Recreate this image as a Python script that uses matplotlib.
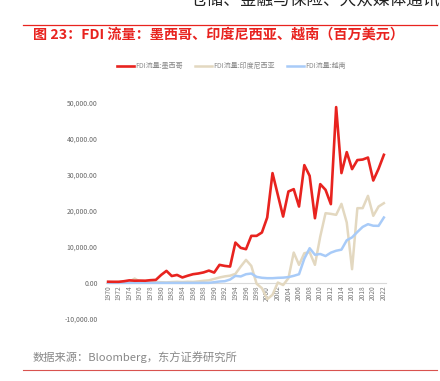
import matplotlib
matplotlib.use("Agg")
import matplotlib.pyplot as plt
import numpy as np

plt.rcParams['font.family'] = ['Noto Sans CJK SC', 'DejaVu Sans']

years = list(range(1970, 2023))
mexico = [320, 300, 300, 460, 700, 600, 630, 600, 750, 830,
          2200, 3320, 1900, 2200, 1500, 1980, 2400, 2600, 2900, 3400,
          2850, 4990, 4700, 4520, 11160, 9700, 9330, 13020, 13020, 13950,
          18100, 30390, 24380, 18370, 25300, 25950, 21140, 32600, 29640, 17900,
          27340, 25760, 21800, 48670, 30400, 36200, 31500, 34000, 34150, 34700,
          28340, 31600, 35460]
indonesia = [80, 140, 200, 200, 300, 1200, 340, 235, 280, 230,
             180, 130, 230, 290, 220, 310, 260, 400, 580, 700,
             1100, 1500, 1800, 2000, 2490, 4520, 6370, 4700, -240, -1470,
             -4500, -3300, 100, -600, 1300, 8400, 4990, 8220, 8500, 4990,
             12830, 19300, 19110, 18840, 21880, 16700, 3790, 20690, 20690, 24100,
             18560, 21140, 22070]
vietnam = [0, 0, 0, 0, 0, 0, 0, 0, 0, 0,
           0, 0, 0, 0, 0, 0, 0, 0, 10, 10,
           180, 380, 470, 930, 1940, 1780, 2400, 2590, 1670, 1410,
           1300, 1300, 1400, 1450, 1600, 1950, 2400, 6700, 9600, 7780,
           8000, 7430, 8370, 8900, 9200, 11800, 12600, 14100, 15500, 16250,
           15820, 15790, 18100]
series_names = ['FDI流量:墨西哥', 'FDI流量:印度尼西亚', 'FDI流量:越南']
colors = ['#E8231F', '#E3D8C0', '#A8CBF8']
yticks = [-10000, 0, 10000, 20000, 30000, 40000, 50000]

W, H = 440, 381
fig = plt.figure(figsize=(W / 100, H / 100), dpi=100)

def fx(px):
    return px / W

def fy(py):
    return 1 - py / H

# header (cut off at top, as in the source page)
fig.text(fx(440), fy(0), '仓储、金融与保险、大众媒体通讯', ha='right', va='center',
         fontsize=12, color='#222222')
# red rule
fig.add_artist(plt.Line2D([fx(23), fx(437)], [fy(24.5), fy(24.5)], color='#E8231F', lw=0.9))
fig.text(fx(33), fy(35), '图 23：FDI 流量：墨西哥、印度尼西亚、越南（百万美元）',
         ha='left', va='center', fontsize=10.2, color='#E8231F', fontweight='bold')

# axes
x0, x1 = 106, 386
ytop_px, ybot_px = 102.3, 319.0
ax = fig.add_axes([fx(x0), fy(ybot_px), fx(x1) - fx(x0), (ybot_px - ytop_px) / H])
ax.set_xlim(1969.6, 2022.4)
ax.set_ylim(-10000, 50000)

handles = []
for vals, name, c, lw, z in zip([mexico, indonesia, vietnam], series_names, colors,
                                [1.9, 1.8, 1.8], [3, 2, 2]):
    h, = ax.plot(years, vals, color=c, lw=lw, label=name, zorder=z)
    handles.append(h)

for s in ['top', 'right', 'left']:
    ax.spines[s].set_visible(False)
ax.spines['bottom'].set_position(('data', 0))
ax.spines['bottom'].set_color('#D9D9D9')
ax.spines['bottom'].set_linewidth(0.8)
ax.spines['bottom'].set_zorder(1)

ax.set_yticks(yticks)
ax.set_yticklabels([f'{v:,.2f}' for v in yticks])
ax.tick_params(axis='y', length=0, labelsize=4.9, labelcolor='#666666', pad=6)
ax.set_xticks(years[::2])
ax.set_xticklabels([str(y) for y in years[::2]], rotation=90)
ax.tick_params(axis='x', length=0, labelsize=4.8, labelcolor='#777777', pad=2)

fig.legend(handles=handles, labels=series_names, loc='center left',
           bbox_to_anchor=(fx(117), fy(66)), ncol=3, frameon=False,
           fontsize=5.0, labelcolor='#888888', handlelength=2.4, handletextpad=0.2,
           columnspacing=1.8, borderaxespad=0, borderpad=0)

fig.text(fx(33), fy(357), '数据来源：Bloomberg，东方证券研究所', ha='left', va='center',
         fontsize=8.1, color='#888888')
fig.add_artist(plt.Line2D([fx(23), fx(437)], [fy(369.5), fy(369.5)], color='#D9534F', lw=0.8))

fig.savefig('out.png', dpi=100)
